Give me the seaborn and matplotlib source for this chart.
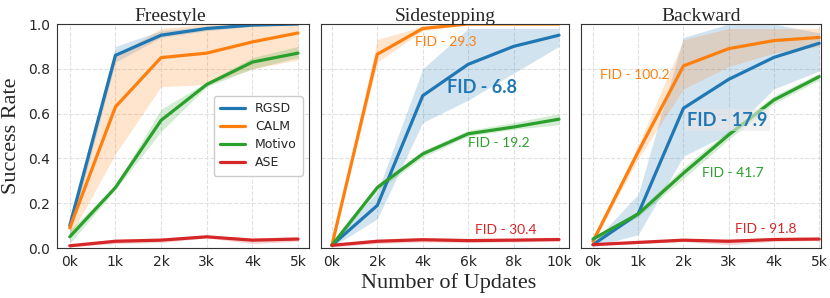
#! /usr/bin/env python3

import numpy as np
import pandas as pd
import seaborn as sns
import matplotlib.pyplot as plt

methods = ["RGSD", "CALM", "Motivo", "ASE"]
colors = {"RGSD": "#1f77b4", "CALM": "#ff7f0e", "Motivo": "#2ca02c", "ASE": "#d62728"}

# Freestyle
free_x = [0, 1, 2, 3, 4, 5]
free_mean = {
    "RGSD":   [0.10, 0.86, 0.95, 0.98, 0.995, 1.00],
    "CALM":   [0.09, 0.63, 0.85, 0.87, 0.92, 0.96],
    "Motivo": [0.05, 0.27, 0.57, 0.73, 0.83, 0.87],
    "ASE":    [0.01, 0.03, 0.035, 0.05, 0.035, 0.04],
}
free_lo = {
    "RGSD":   [0.06, 0.83, 0.94, 0.97, 0.99, 1.00],
    "CALM":   [0.05, 0.42, 0.72, 0.73, 0.80, 0.84],
    "Motivo": [0.02, 0.26, 0.52, 0.72, 0.80, 0.85],
    "ASE":    [0.005, 0.02, 0.025, 0.045, 0.02, 0.03],
}
free_hi = {
    "RGSD":   [0.14, 0.90, 0.97, 0.99, 1.00, 1.00],
    "CALM":   [0.13, 0.86, 0.98, 1.00, 1.00, 1.00],
    "Motivo": [0.08, 0.28, 0.62, 0.74, 0.85, 0.90],
    "ASE":    [0.015, 0.04, 0.045, 0.055, 0.045, 0.05],
}

# Sidestepping
side_x = [0, 2, 4, 6, 8, 10]
side_mean = {
    "RGSD":   [0.012, 0.19, 0.68, 0.82, 0.90, 0.95],
    "CALM":   [0.012, 0.865, 0.98, 1.00, 1.00, 1.00],
    "Motivo": [0.012, 0.27, 0.42, 0.51, 0.54, 0.575],
    "ASE":    [0.012, 0.03, 0.037, 0.033, 0.035, 0.038],
}
side_lo = {
    "RGSD":   [0.005, 0.13, 0.56, 0.66, 0.78, 0.90],
    "CALM":   [0.005, 0.83, 0.97, 1.00, 1.00, 1.00],
    "Motivo": [0.005, 0.255, 0.405, 0.50, 0.53, 0.55],
    "ASE":    [0.005, 0.02, 0.027, 0.025, 0.027, 0.03],
}
side_hi = {
    "RGSD":   [0.02, 0.25, 0.80, 0.98, 0.98, 0.98],
    "CALM":   [0.02, 0.93, 0.99, 1.00, 1.00, 1.00],
    "Motivo": [0.02, 0.285, 0.435, 0.525, 0.56, 0.60],
    "ASE":    [0.02, 0.04, 0.047, 0.043, 0.045, 0.046],
}

# Backward
back_x = [0, 1, 2, 3, 4, 5]
back_mean = {
    "RGSD":   [0.015, 0.153, 0.624, 0.753, 0.851, 0.914],
    "CALM":   [0.03, 0.43, 0.813, 0.89, 0.926, 0.94],
    "Motivo": [0.04, 0.152, 0.334, 0.505, 0.661, 0.765],
    "ASE":    [0.015, 0.025, 0.035, 0.03, 0.038, 0.04],
}
back_lo = {
    "RGSD":   [0.005, 0.06, 0.41, 0.51, 0.71, 0.79],
    "CALM":   [0.02, 0.40, 0.71, 0.81, 0.87, 0.90],
    "Motivo": [0.03, 0.14, 0.31, 0.485, 0.645, 0.75],
    "ASE":    [0.01, 0.02, 0.028, 0.015, 0.03, 0.033],
}
back_hi = {
    "RGSD":   [0.025, 0.24, 0.94, 1.00, 1.00, 0.96],
    "CALM":   [0.04, 0.46, 0.93, 0.98, 0.98, 0.98],
    "Motivo": [0.05, 0.165, 0.36, 0.525, 0.68, 0.78],
    "ASE":    [0.02, 0.03, 0.042, 0.04, 0.046, 0.047],
}

titles = ["Freestyle", "Sidestepping", "Backward"]
xticks = [[0, 1, 2, 3, 4, 5], [0, 2, 4, 6, 8, 10], [0, 1, 2, 3, 4, 5]]
xticklabels = [["0k", "1k", "2k", "3k", "4k", "5k"],
               ["0k", "2k", "4k", "6k", "8k", "10k"],
               ["0k", "1k", "2k", "3k", "4k", "5k"]]

# (panel, text, x, y, method, bold)
fid_notes = [
    (1, "FID - 29.3", 3.65, 0.92, "CALM", False),
    (1, "FID - 6.8", 5.05, 0.715, "RGSD", True),
    (1, "FID - 19.2", 6.0, 0.47, "Motivo", False),
    (1, "FID - 30.4", 6.3, 0.08, "ASE", False),
    (2, "FID - 100.2", 0.15, 0.772, "CALM", False),
    (2, "FID - 17.9", 2.08, 0.571, "RGSD", True),
    (2, "FID - 41.7", 2.4, 0.335, "Motivo", False),
    (2, "FID - 91.8", 3.15, 0.085, "ASE", False),
]

sns.set_style("whitegrid", {"grid.linestyle": "--", "grid.color": "#e0e0e0",
                            "axes.edgecolor": "#333333"})

fig = plt.figure(figsize=(8.3, 2.98), dpi=100)
positions = [
    [57 / 830, 50 / 298, 252 / 830, 224 / 298],
    [321 / 830, 50 / 298, 248 / 830, 224 / 298],
    [581 / 830, 50 / 298, 240 / 830, 224 / 298],
]
xlims = [(-0.28, 5.24), (-0.48, 10.44), (-0.265, 5.04)]
title_x = [0.45, 0.5, 0.5]

panels = [(free_x, free_mean, free_lo, free_hi),
          (side_x, side_mean, side_lo, side_hi),
          (back_x, back_mean, back_lo, back_hi)]

axes = []
for i, (xs, mean, lo, hi) in enumerate(panels):
    ax = fig.add_axes(positions[i])
    axes.append(ax)
    for m in methods:
        df = pd.DataFrame({"x": xs, "y": mean[m]})
        sns.lineplot(data=df, x="x", y="y", color=colors[m], lw=2.3, label=m, ax=ax)
        ax.fill_between(xs, lo[m], hi[m], color=colors[m], alpha=0.2, lw=0)
    ax.set_xlim(*xlims[i])
    ax.set_ylim(0, 1)
    ax.set_xticks(xticks[i])
    ax.set_xticklabels(xticklabels[i])
    ax.set_yticks([0, 0.2, 0.4, 0.6, 0.8, 1.0])
    ax.tick_params(axis="both", labelsize=10, length=3, pad=2)
    ax.set_title(titles[i], fontsize=14, family="Liberation Serif", pad=2, x=title_x[i])
    ax.set_xlabel("")
    ax.set_ylabel("")
    for sp in ax.spines.values():
        sp.set_linewidth(0.8)
    if i > 0:
        ax.set_yticklabels([])
    if i == 0:
        ax.legend(loc="center right", fontsize=9, labelspacing=0.4,
                  handlelength=2.0, borderpad=0.5, framealpha=1.0)
    else:
        ax.get_legend().remove()

axes[0].set_ylabel("Success Rate", fontsize=16, family="Liberation Serif", labelpad=5)

for p, txt, x, y, m, bold in fid_notes:
    if bold:
        axes[p].text(x, y, txt, color=colors[m], fontsize=13, fontweight="bold",
                     family="Lato", va="center", ha="left",
                     bbox=dict(facecolor="#e8e8e8", edgecolor="none", alpha=0.6, pad=1.5)
                     if p == 2 else None)
    else:
        axes[p].text(x, y, txt, color=colors[m], fontsize=10, family="Lato",
                     va="center", ha="left")

fig.text(0.54, 0.05, "Number of Updates", fontsize=16, family="Liberation Serif",
         ha="center", va="center")

plt.savefig("out.png", dpi=100)
